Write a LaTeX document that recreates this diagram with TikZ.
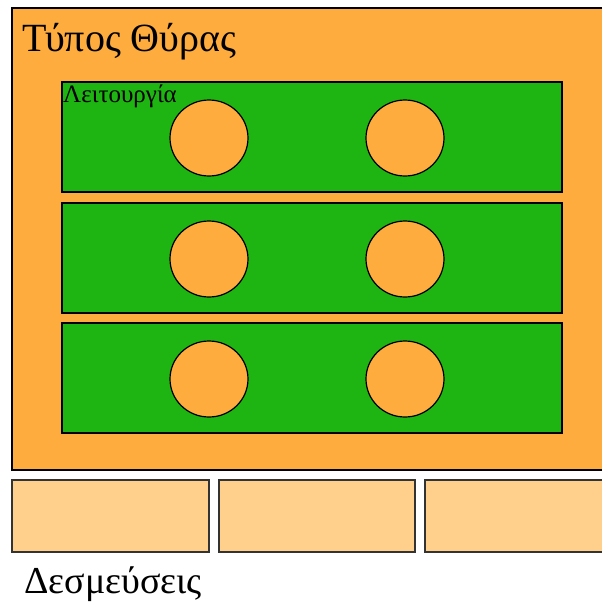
\documentclass[tikz,border=0pt]{standalone}
\usepackage{fontspec}
\setmainfont{Liberation Serif}
\definecolor{orng}{RGB}{255,172,62}
\definecolor{grn}{RGB}{30,180,18}
\definecolor{lorng}{RGB}{255,208,140}
\begin{document}
\begin{tikzpicture}[x=1pt,y=-1pt,
  port/.style={draw=black,line width=1.2pt,fill=orng},
  func/.style={draw=black,line width=1.2pt,fill=grn},
  slot/.style={draw=black,line width=1.2pt,fill=orng},
  bind/.style={draw=black!80,line width=1.5pt,fill=lorng},
  lbl/.style={anchor=base west,inner sep=0pt}]
\useasboundingbox (0,0) rectangle (602,603);
\clip (0,0) rectangle (602,603);
\fill[white] (0,0) rectangle (602,603);
\draw[port] (12,8) rectangle (620,470);
\node[lbl,font=\fontsize{40}{42}\selectfont] (t) at (22,51) {Τύπος Θύρας};
\foreach \i/\y in {1/82,2/203,3/323}{
  \draw[func] (62,\y) rectangle (562,\y+110);
  \draw[slot] (209,\y+56) ellipse [x radius=39, y radius=38];
  \draw[slot] (405,\y+56) ellipse [x radius=39, y radius=38];
}
\node[lbl,font=\fontsize{25}{26}\selectfont] (f) at (63,102) {Λειτουργία};
\draw[bind] (12,480) rectangle (209,552);
\draw[bind] (219,480) rectangle (415,552);
\draw[bind] (425,480) rectangle (620,552);
\node[lbl,font=\fontsize{38}{40}\selectfont] (d) at (24,593) {Δεσμεύσεις};
\end{tikzpicture}
\end{document}
